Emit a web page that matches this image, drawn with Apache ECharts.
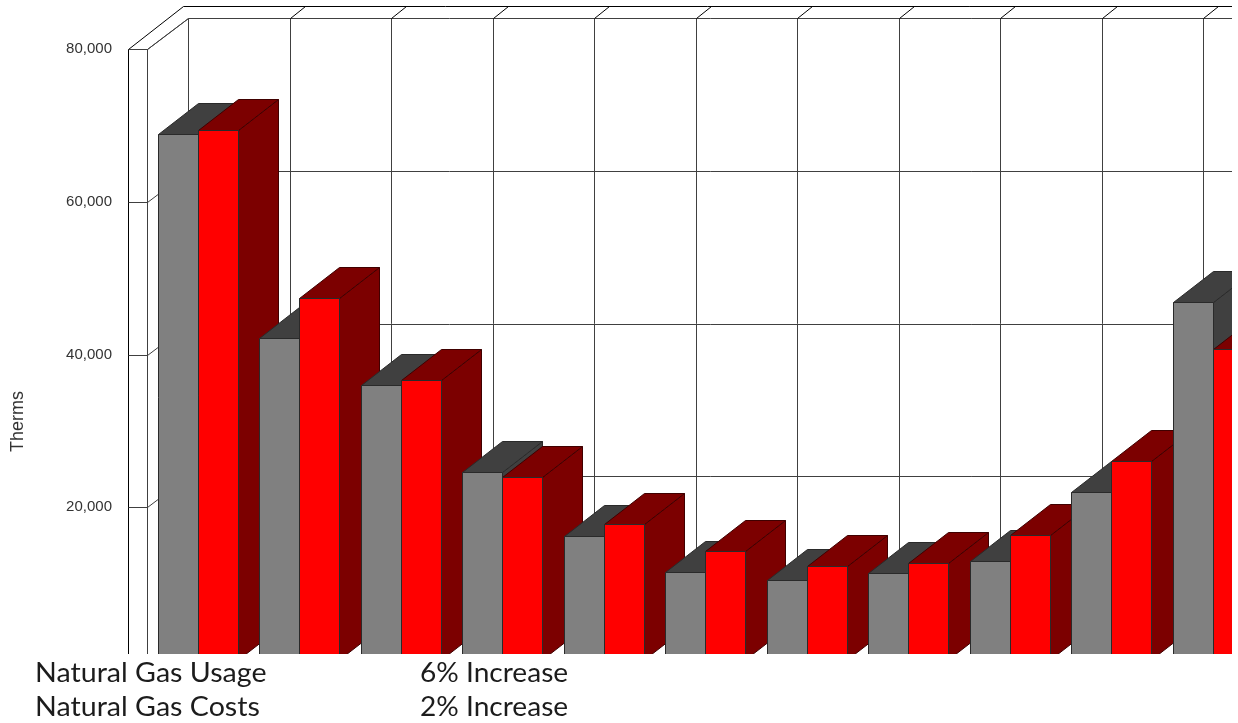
<!DOCTYPE html>
<html><head><meta charset="utf-8">
<style>html,body{margin:0;padding:0;background:#fff}#c{width:1238px;height:723px}</style>
<script src="https://cdn.jsdelivr.net/npm/echarts@6/dist/echarts.min.js"></script>
</head><body><div id="c"></div>
<script>
const categories = ['Jan','Feb','Mar','Apr','May','Jun','Jul','Aug','Sep','Oct','Nov'];
const usage = [68900,42200,36000,24600,16250,11530,10480,11400,12970,22000,46900];
const costs = [69450,47400,36690,24000,17820,14280,12320,12710,16380,26080,40750];
const yTicks = [0,20000,40000,60000,80000];
const notes = [['Natural Gas Usage','6% Increase'],['Natural Gas Costs','2% Increase']];

const D = [40,-31];        // depth of bars
const W = [41,-31];        // depth of back wall
const CEIL = [55,-43];     // depth of the outer frame
const LINE = '#404040', EDGE = '#000';
const RIGHT = 1232;
const px = v => Math.round(v) + 0.5;
const seg = (a,b,c,w) => ({type:'line',shape:{x1:a[0],y1:a[1],x2:b[0],y2:b[1]},style:{stroke:c||LINE,lineWidth:w||1},silent:true});
const bandLeft = (api,i) => api.coord([i,0])[0] - api.size([1,0])[0]/2;

function hGrid(params, api){
  const v = api.value(0);
  const y = px(api.coord([0,v])[1]);
  const xIn = px(bandLeft(api,0)), xOut = xIn - 19;
  const kids = [];
  if (v > 0) {
    kids.push(seg([xOut,y],[xIn,y]));
    kids.push(seg([xIn,y],[xIn+W[0],y+W[1]]));
    kids.push(seg([xIn+W[0],y+W[1]],[RIGHT,y+W[1]]));
  }
  if (v === 0) {
    const top = px(api.coord([0,yTicks[yTicks.length-1]])[1]);
    kids.push(seg([xOut,top],[xOut,y],EDGE));
    kids.push(seg([xIn,top],[xIn,y]));
    kids.push(seg([xOut,top],[xIn,top],EDGE));
    kids.push(seg([xOut,top],[xOut+CEIL[0],top+CEIL[1]],EDGE));
    kids.push(seg([xOut+CEIL[0],top+CEIL[1]],[RIGHT,top+CEIL[1]],EDGE));
  }
  return {type:'group',children:kids};
}
function vGrid(params, api){
  const i = api.value(0);
  const x = px(bandLeft(api,i)+W[0]);
  const top = px(api.coord([0,yTicks[yTicks.length-1]])[1]) + W[1];
  const base = api.coord([0,0])[1] + W[1];
  const kids = [seg([x,top],[x,base])];
  if (i===0) kids.push(seg([x-W[0],top-W[1]],[x,top]));
  else kids.push(seg([x,top],[x+15,top-12],EDGE));
  return {type:'group',children:kids};
}
function bar(api,x0,w,v,front,side,top,edge){
  const y = api.coord([0,v])[1], b = api.coord([0,0])[1];
  const x = x0, X = x0+w, Y = px(y);
  const dx = D[0], dy = D[1];
  const st = c => ({fill:c,stroke:edge,lineWidth:1});
  return [
    {type:'polygon',shape:{points:[[X,Y],[X+dx,Y+dy],[X+dx,b+dy],[X,b]]},style:st(side),silent:true},
    {type:'polygon',shape:{points:[[x,Y],[X,Y],[X+dx,Y+dy],[x+dx,Y+dy]]},style:st(top),silent:true},
    {type:'rect',shape:{x:x,y:Y,width:w,height:b-Y},style:{fill:front,stroke:'#2a2a2a',lineWidth:1},silent:true}
  ];
}
function bars(params, api){
  const i = api.value(0);
  const band = api.size([1,0])[0], L = bandLeft(api,i);
  const w = band*0.397, x0 = px(L + band*0.104);
  return {type:'group',children:[
    ...bar(api,x0,Math.round(w),api.value(1),'#808080','#404040','#404040','#2a2a2a'),
    ...bar(api,x0+Math.round(w),Math.round(w),api.value(2),'#ff0000','#7c0000','#7c0000','#400000')
  ]};
}
const noteText = [];
notes.forEach((row,r)=>{
  noteText.push({type:'text',x:35,y:661+r*34,scaleX:1.1,z:102,style:{text:row[0],fontFamily:'Lato',fontSize:26,fill:'#1c1c1c'}});
  noteText.push({type:'text',x:420,y:661+r*34,scaleX:1.08,z:102,style:{text:row[1],fontFamily:'Lato',fontSize:26,fill:'#1c1c1c'}});
});

const chart = echarts.init(document.getElementById('c'),null,{renderer:'canvas'});
chart.setOption({
  animation:false,
  backgroundColor:'#fff',
  grid:{left:147,top:49,width:1116.5,height:611,containLabel:false,outerBoundsMode:'none'},
  xAxis:{type:'category',data:categories,axisLine:{show:false},axisTick:{show:false},axisLabel:{show:false},splitLine:{show:false}},
  yAxis:{type:'value',min:0,max:80000,interval:20000,axisLine:{show:false},axisTick:{show:false},splitLine:{show:false},
    axisLabel:{showMinLabel:false,margin:35,color:'#333',fontFamily:'Liberation Sans',fontSize:15}},
  series:[
    {type:'custom',name:'Frame',coordinateSystem:'cartesian2d',renderItem:hGrid,data:yTicks.map(v=>[v]),encode:{y:0},z:1,silent:true},
    {type:'custom',name:'Back wall',coordinateSystem:'cartesian2d',renderItem:vGrid,data:categories.map((c,i)=>[i]),encode:{x:0},z:2,silent:true},
    {type:'custom',name:'Natural Gas',coordinateSystem:'cartesian2d',renderItem:bars,
     data:categories.map((c,i)=>[i,usage[i],costs[i]]),encode:{x:0,y:[1,2]},z:3,silent:true}
  ],
  graphic:[
    {type:'rect',z:100,shape:{x:0,y:654,width:1238,height:69},style:{fill:'#fff'},silent:true},
    {type:'rect',z:100,shape:{x:RIGHT,y:0,width:6,height:723},style:{fill:'#fff'},silent:true},
    {type:'text',z:102,x:9,y:452,rotation:Math.PI/2,style:{text:'Therms',fontFamily:'Liberation Sans',fontSize:18,fill:'#333'}},
    ...noteText
  ]
});
</script></body></html>
